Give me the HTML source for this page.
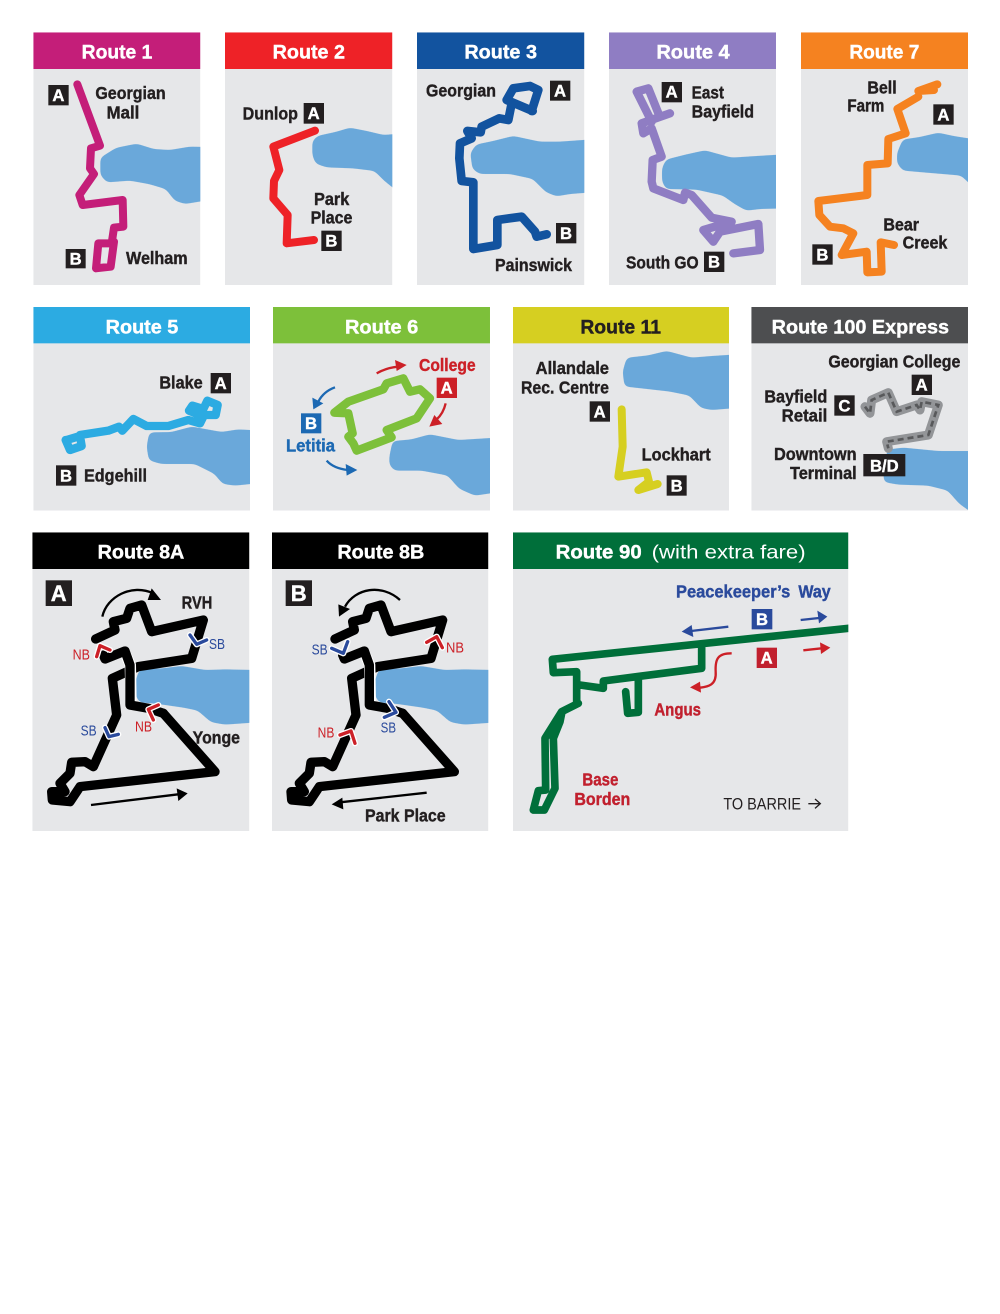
<!DOCTYPE html>
<html><head><meta charset="utf-8"><title>Routes</title>
<style>
html,body{margin:0;padding:0;background:#fff}
svg{display:block}
text{font-family:"Liberation Sans",sans-serif;font-weight:700;color:#231f20;fill:currentColor;stroke:currentColor;stroke-width:1.2px;font-size:52px}
.h{color:#fff;font-size:58px}
.r{font-weight:400;stroke-width:0}
.m{font-size:44px;font-weight:400;stroke-width:0}
.bt{color:#fff;font-size:50px;text-anchor:middle}
.w{fill:#6aa8da;stroke:#6aa8da;stroke-width:8;stroke-linejoin:round;filter:url(#g)}
.l{fill:none;stroke-linejoin:round;stroke-linecap:round}
.a{fill:none;stroke-width:7}
</style></head><body>
<svg xmlns="http://www.w3.org/2000/svg" width="1000" height="1314" viewBox="0 0 1000 1314">
<defs><filter id="g" x="-10%" y="-10%" width="120%" height="120%" color-interpolation-filters="sRGB"><feGaussianBlur stdDeviation="8"/><feComponentTransfer><feFuncA type="linear" slope="12" intercept="-5.5"/></feComponentTransfer></filter></defs>
<rect width="1000" height="1314" fill="#fff"/>

<g transform="translate(20 25) scale(.33333)">
<svg x="40" y="22" width="501" height="758" viewBox="40 22 501 758">
<rect x="40" y="22" width="501" height="758" fill="#e6e7e9"/><rect x="40" y="22" width="501" height="110" fill="#c41e79"/>
<text class="h" x="185" y="100" textLength="212" lengthAdjust="spacingAndGlyphs">Route 1</text>
<polygon class="w" points="245,400 290,372 350,360 400,376 450,379 510,369 560,370 560,522 495,533 467,524 440,489 390,474 330,463 262,468 245,449"/>
<path class="l" stroke="#c41e79" stroke-width="24" d="M172,178 L240,362 L213,370 L210,430 L222,447 L178,510 L188,540 L308,525 L310,605 L282,608 L275,655 L235,655 L228,730 L272,725 L282,650"/>
<rect x="85" y="180" width="61" height="61" fill="#231f20"/><text class="bt" x="115" y="228">A</text>
<rect x="137" y="672" width="60" height="58" fill="#231f20"/><text class="bt" x="167" y="718">B</text>
<text x="226" y="222" textLength="211" lengthAdjust="spacingAndGlyphs">Georgian</text>
<text x="260" y="280" textLength="98" lengthAdjust="spacingAndGlyphs">Mall</text>
<text x="318" y="717" textLength="185" lengthAdjust="spacingAndGlyphs">Welham</text>
</svg>
<svg x="615" y="22" width="502" height="758" viewBox="615 22 502 758">
<rect x="615" y="22" width="502" height="758" fill="#e6e7e9"/><rect x="615" y="22" width="502" height="110" fill="#ee2227"/>
<text class="h" x="758" y="100" textLength="217" lengthAdjust="spacingAndGlyphs">Route 2</text>
<polygon class="w" points="881,350 895,336 950,324 990,312 1040,322 1090,334 1140,330 1140,500 1095,464 1065,434 1000,426 920,423 890,413 881,390"/>
<path class="l" stroke="#ee2227" stroke-width="24" d="M885,317 L760,365 L778,435 L762,468 L760,520 L803,570 L800,655 L882,645"/>
<rect x="851" y="234" width="61" height="62" fill="#231f20"/><text class="bt" x="881" y="282">A</text>
<rect x="904" y="617" width="61" height="61" fill="#231f20"/><text class="bt" x="934" y="665">B</text>
<text x="668" y="284" textLength="166" lengthAdjust="spacingAndGlyphs">Dunlop</text>
<text x="882" y="540" textLength="106" lengthAdjust="spacingAndGlyphs">Park</text>
<text x="872" y="595" textLength="125" lengthAdjust="spacingAndGlyphs">Place</text>
</svg>
</g>

<g transform="translate(410 25) scale(.33333)">
<svg x="21" y="22" width="502" height="758" viewBox="21 22 502 758">
<rect x="21" y="22" width="502" height="758" fill="#e6e7e9"/><rect x="21" y="22" width="502" height="110" fill="#12539f"/>
<text class="h" x="163" y="100" textLength="218" lengthAdjust="spacingAndGlyphs">Route 3</text>
<polygon class="w" points="185,385 201,362 250,352 310,337 390,354 450,354 545,347 545,498 480,503 440,510 410,498 370,458 300,443 210,443 191,430"/>
<path class="l" stroke="#12539f" stroke-width="26" d="M368,258 L290,225 L310,190 L360,183 L385,195 L365,258 M305,235 L295,285 L268,280 L215,305 L212,322 L172,318 L185,340 L150,355 L148,400 L155,468 L190,472 L190,672 L262,660 L262,585 L335,575 L375,620 L380,635 L410,628"/>
<rect x="420" y="167" width="61" height="60" fill="#231f20"/><text class="bt" x="450" y="214">A</text>
<rect x="438" y="594" width="61" height="61" fill="#231f20"/><text class="bt" x="468" y="642">B</text>
<text x="48" y="215" textLength="210" lengthAdjust="spacingAndGlyphs">Georgian</text>
<text x="255" y="738" textLength="231" lengthAdjust="spacingAndGlyphs">Painswick</text>
</svg>
<svg x="597" y="22" width="501" height="758" viewBox="597 22 501 758">
<rect x="597" y="22" width="501" height="758" fill="#e6e7e9"/><rect x="597" y="22" width="501" height="110" fill="#8f7dc3"/>
<text class="h" x="739" y="100" textLength="220" lengthAdjust="spacingAndGlyphs">Route 4</text>
<polygon class="w" points="760,430 771,407 830,392 885,380 965,402 1040,397 1120,392 1120,546 1050,548 1010,553 975,533 940,508 860,490 770,488 760,468"/>
<path class="l" stroke="#8f7dc3" stroke-width="25" d="M725,290 L680,200 L715,190 L748,272 M780,265 L695,295 L700,325 L725,310 L755,395 L728,405 L725,470 L730,490 L820,525 L825,503 L845,510 L905,578 L965,590 L880,615 L910,650 L930,620 L1045,597 L1050,675 L970,685"/>
<rect x="755" y="171" width="61" height="61" fill="#231f20"/><text class="bt" x="785" y="218">A</text>
<rect x="882" y="680" width="61" height="61" fill="#231f20"/><text class="bt" x="912" y="728">B</text>
<text x="845" y="220" textLength="97" lengthAdjust="spacingAndGlyphs">East</text>
<text x="845" y="278" textLength="187" lengthAdjust="spacingAndGlyphs">Bayfield</text>
<text x="648" y="730" textLength="218" lengthAdjust="spacingAndGlyphs">South GO</text>
</svg>
</g>

<g transform="translate(790 25) scale(.33333)">
<svg x="33" y="22" width="501" height="758" viewBox="33 22 501 758">
<rect x="33" y="22" width="501" height="758" fill="#e6e7e9"/><rect x="33" y="22" width="501" height="110" fill="#f58220"/>
<text class="h" x="178" y="100" textLength="210" lengthAdjust="spacingAndGlyphs">Route 7</text>
<polygon class="w" points="325,385 341,347 390,340 445,327 490,337 555,347 555,486 515,448 480,445 400,438 340,433 325,413"/>
<path class="l" stroke="#f58220" stroke-width="24" d="M442,178 L385,198 L432,195 M385,215 L322,252 L347,325 L295,342 L293,415 L232,420 L232,510 L85,528 L88,570 L120,605 L160,610 L190,625 L155,690 L230,680 L232,742 L275,740 L272,652 L312,660"/>
<rect x="430" y="238" width="61" height="61" fill="#231f20"/><text class="bt" x="460" y="286">A</text>
<rect x="67" y="658" width="61" height="61" fill="#231f20"/><text class="bt" x="97" y="706">B</text>
<text x="232" y="205" textLength="88" lengthAdjust="spacingAndGlyphs">Bell</text>
<text x="172" y="260" textLength="111" lengthAdjust="spacingAndGlyphs">Farm</text>
<text x="280" y="617" textLength="107" lengthAdjust="spacingAndGlyphs">Bear</text>
<text x="338" y="671" textLength="134" lengthAdjust="spacingAndGlyphs">Creek</text>
</svg>
</g>

<g transform="translate(25 300) scale(.33333)">
<svg x="25" y="21" width="650" height="611" viewBox="25 21 650 611">
<rect x="25" y="21" width="650" height="611" fill="#e6e7e9"/><rect x="25" y="21" width="650" height="109" fill="#2cabe2"/>
<text class="h" x="242" y="100" textLength="218" lengthAdjust="spacingAndGlyphs">Route 5</text>
<polygon class="w" points="369,440 376,401 440,400 500,384 590,400 640,392 695,395 695,546 630,553 595,548 570,518 510,488 410,488 375,478"/>
<path class="l" stroke="#2cabe2" stroke-width="25" d="M125,420 L165,408 L170,438 L135,450 L122,420 M165,405 L250,392 L282,380 L292,392 L325,357 L365,378 L430,378 L490,360 L525,370 L535,350 L492,332 L502,317 L535,327 L547,302 L578,315 L572,345 L530,345"/>
<rect x="557" y="219" width="61" height="61" fill="#231f20"/><text class="bt" x="587" y="267">A</text>
<rect x="93" y="496" width="61" height="61" fill="#231f20"/><text class="bt" x="123" y="544">B</text>
<text x="403" y="265" textLength="130" lengthAdjust="spacingAndGlyphs">Blake</text>
<text x="177" y="545" textLength="189" lengthAdjust="spacingAndGlyphs">Edgehill</text>
</svg>
<svg x="744" y="21" width="651" height="611" viewBox="744 21 651 611">
<rect x="744" y="21" width="651" height="611" fill="#e6e7e9"/><rect x="744" y="21" width="651" height="109" fill="#7dc03a"/>
<text class="h" x="960" y="100" textLength="220" lengthAdjust="spacingAndGlyphs">Route 6</text>
<polygon class="w" points="1097,470 1106,427 1160,422 1215,407 1300,424 1415,417 1415,573 1350,583 1305,563 1270,523 1190,508 1110,508 1097,493"/>
<path class="l" stroke="#7dc03a" stroke-width="25" d="M928,338 L970,305 L1075,268 L1085,250 L1135,235 L1155,275 L1185,268 L1215,295 L1175,355 L1085,390 L1100,412 L995,452 L985,430 L970,410 L983,400 L970,340 L928,338"/>
<path class="a" stroke="#cc2027" d="M1055,220 Q1085,203 1118,200"/><polygon fill="#cc2027" points="1145,195 1110,180 1115,213"/>
<path class="a" stroke="#1c69b3" d="M930,262 Q895,275 880,305"/><polygon fill="#1c69b3" points="865,328 862,293 895,310"/>
<path class="a" stroke="#cc2027" d="M1262,310 Q1255,340 1235,358"/><polygon fill="#cc2027" points="1213,380 1228,345 1252,372"/>
<path class="a" stroke="#1c69b3" d="M905,482 Q925,505 968,510"/><polygon fill="#1c69b3" points="997,510 962,492 965,527"/>
<rect x="1235" y="233" width="61" height="61" fill="#cc2027"/><text class="bt" x="1265" y="281">A</text>
<rect x="828" y="340" width="61" height="60" fill="#1c69b3"/><text class="bt" x="858" y="387">B</text>
<text x="1182" y="213" textLength="170" lengthAdjust="spacingAndGlyphs" style="color:#cc2027">College</text>
<text x="783" y="455" textLength="147" lengthAdjust="spacingAndGlyphs" style="color:#1c69b3">Letitia</text>
</svg>
</g>

<g transform="translate(505 300) scale(.33333)">
<svg x="24" y="21" width="648" height="611" viewBox="24 21 648 611">
<rect x="24" y="21" width="648" height="611" fill="#e6e7e9"/><rect x="24" y="21" width="648" height="109" fill="#d6cf21"/>
<text class="h" x="226" y="100" textLength="242" lengthAdjust="spacingAndGlyphs" style="color:#231f20">Route 11</text>
<polygon class="w" points="357,215 368,177 430,170 485,157 560,177 620,172 695,167 695,320 620,326 590,320 555,283 490,270 400,260 362,256"/>
<path class="l" stroke="#d6cf21" stroke-width="24" d="M350,328 L353,440 L340,530 L425,517 L432,545 L400,570 L458,552"/>
<rect x="254" y="304" width="61" height="61" fill="#231f20"/><text class="bt" x="284" y="352">A</text>
<rect x="485" y="526" width="60" height="61" fill="#231f20"/><text class="bt" x="515" y="574">B</text>
<text x="92" y="222" textLength="220" lengthAdjust="spacingAndGlyphs">Allandale</text>
<text x="48" y="280" textLength="264" lengthAdjust="spacingAndGlyphs">Rec. Centre</text>
<text x="410" y="482" textLength="207" lengthAdjust="spacingAndGlyphs">Lockhart</text>
</svg>
<svg x="739" y="21" width="650" height="611" viewBox="739 21 650 611">
<rect x="739" y="21" width="650" height="611" fill="#e6e7e9"/><rect x="739" y="21" width="650" height="109" fill="#4d4e50"/>
<text class="h" x="800" y="100" textLength="532" lengthAdjust="spacingAndGlyphs">Route 100 Express</text>
<polygon class="w" points="1140,500 1151,452 1195,447 1300,457 1410,457 1410,640 1365,608 1330,568 1270,553 1180,550 1140,543"/>
<path class="l" stroke="#939598" stroke-width="27" d="M1080,320 L1095,340 L1100,300 L1150,278 L1175,335 L1235,315 L1245,330 L1250,305 L1300,315 L1270,405 L1145,425 L1150,445"/>
<path fill="none" stroke="#58595b" stroke-width="8" stroke-dasharray="18 12" d="M1080,320 L1095,340 L1100,300 L1150,278 L1175,335 L1235,315 L1245,330 L1250,305 L1300,315 L1270,405 L1145,425 L1150,445"/>
<rect x="1220" y="224" width="61" height="61" fill="#231f20"/><text class="bt" x="1250" y="272">A</text>
<rect x="988" y="286" width="61" height="61" fill="#231f20"/><text class="bt" x="1018" y="334">C</text>
<rect x="1075" y="462" width="126" height="67" fill="#231f20"/><text class="bt" x="1138" y="514">B/D</text>
<text x="970" y="202" textLength="396" lengthAdjust="spacingAndGlyphs">Georgian College</text>
<text x="778" y="307" textLength="189" lengthAdjust="spacingAndGlyphs">Bayfield</text>
<text x="830" y="365" textLength="137" lengthAdjust="spacingAndGlyphs">Retail</text>
<text x="807" y="480" textLength="248" lengthAdjust="spacingAndGlyphs">Downtown</text>
<text x="855" y="537" textLength="200" lengthAdjust="spacingAndGlyphs">Terminal</text>
</svg>
</g>

<g transform="translate(25 525) scale(.33333)">
<svg x="22" y="22" width="651" height="896" viewBox="22 22 651 896">
<rect x="22" y="22" width="651" height="896" fill="#e6e7e9"/><rect x="22" y="22" width="651" height="110" fill="#000"/>
<text class="h" x="218" y="100" textLength="260" lengthAdjust="spacingAndGlyphs">Route 8A</text>
<polygon class="w" points="335,470 346,437 410,434 470,427 540,439 600,437 695,439 695,588 600,595 560,588 520,553 470,543 400,533 345,528 335,508"/>
<path class="l" stroke="#000" stroke-width="28" d="M212,342 L270,315 L265,290 L305,280 L315,250 L350,240 L380,320 L535,285 L500,400 L340,425 L262,460 L275,570 L205,725 L180,710 L140,712 L135,745 L105,775 L120,800 L80,800 L82,825 L135,830 L165,785 L570,740 L415,565"/>
<path class="l" stroke="#fff" stroke-width="34" d="M318,525 L316,420 L305,395"/>
<path class="l" stroke="#000" stroke-width="28" d="M415,565 L370,550 L315,540 L315,420 L300,378 L240,402 L235,390"/>
<path class="l" stroke="#fff" stroke-width="18" d="M215,395 L225,362 L255,375 M495,330 L515,358 L545,345 M240,608 L252,635 L280,628 M400,540 L370,553 L385,585" stroke-linecap="butt"/>
<path class="l" stroke="#cc2027" stroke-width="10" d="M215,395 L225,362 L255,375 M400,540 L370,553 L385,585" stroke-linecap="butt"/>
<path class="l" stroke="#2a4a9c" stroke-width="10" d="M495,330 L515,358 L545,345 M240,608 L252,635 L280,628" stroke-linecap="butt"/>
<path class="a" stroke="#000" d="M232,275 C245,215 320,175 385,205"/><polygon fill="#000" points="408,225 380,190 368,225"/>
<path class="a" stroke="#000" d="M198,840 L460,808"/><polygon fill="#000" points="488,805 455,790 460,828"/>
<rect x="62" y="166" width="79" height="77" fill="#231f20"/><text class="bt" style="font-size:66px" x="101" y="228">A</text>
<text class="m" x="143" y="403" textLength="52" lengthAdjust="spacingAndGlyphs" style="color:#cc2027">NB</text>
<text class="m" x="552" y="372" textLength="48" lengthAdjust="spacingAndGlyphs" style="color:#2a4a9c">SB</text>
<text class="m" x="167" y="632" textLength="48" lengthAdjust="spacingAndGlyphs" style="color:#2a4a9c">SB</text>
<text class="m" x="330" y="620" textLength="51" lengthAdjust="spacingAndGlyphs" style="color:#cc2027">NB</text>
<text x="470" y="250" textLength="92" lengthAdjust="spacingAndGlyphs">RVH</text>
<text x="503" y="655" textLength="142" lengthAdjust="spacingAndGlyphs">Yonge</text>
</svg>
</g>

<g transform="translate(265 525) scale(.33333)">
<svg x="21" y="22" width="649" height="896" viewBox="21 22 649 896">
<rect x="21" y="22" width="649" height="896" fill="#e6e7e9"/><rect x="21" y="22" width="649" height="110" fill="#000"/>
<text class="h" x="217" y="100" textLength="261" lengthAdjust="spacingAndGlyphs">Route 8B</text>
<g transform="translate(-2 0)">
<polygon class="w" points="335,470 346,437 410,434 470,427 540,439 600,437 695,439 695,588 600,595 560,588 520,553 470,543 400,533 345,528 335,508"/>
<path class="l" stroke="#000" stroke-width="28" d="M212,342 L270,315 L265,290 L305,280 L315,250 L350,240 L380,320 L535,285 L500,400 L340,425 L262,460 L275,570 L205,725 L180,710 L140,712 L135,745 L105,775 L120,800 L80,800 L82,825 L135,830 L165,785 L570,740 L415,565"/>
<path class="l" stroke="#fff" stroke-width="34" d="M318,525 L316,420 L305,395"/>
<path class="l" stroke="#000" stroke-width="28" d="M415,565 L370,550 L315,540 L315,420 L300,378 L240,402 L235,390"/>
</g>
<path class="l" stroke="#fff" stroke-width="18" d="M200,370 L235,385 L248,350 M485,352 L515,335 L532,368 M225,630 L258,618 L270,655 M372,530 L393,562 L358,577" stroke-linecap="butt"/>
<path class="l" stroke="#2a4a9c" stroke-width="10" d="M200,370 L235,385 L248,350 M372,530 L393,562 L358,577" stroke-linecap="butt"/>
<path class="l" stroke="#cc2027" stroke-width="10" d="M485,352 L515,335 L532,368 M225,630 L258,618 L270,655" stroke-linecap="butt"/>
<path class="a" stroke="#000" d="M405,225 C350,175 270,190 240,245"/><polygon fill="#000" points="222,275 220,238 255,252"/>
<path class="a" stroke="#000" d="M485,803 L225,832"/><polygon fill="#000" points="200,838 232,818 235,853"/>
<rect x="62" y="166" width="79" height="77" fill="#231f20"/><text class="bt" style="font-size:66px" x="101" y="228">B</text>
<text class="m" x="140" y="388" textLength="48" lengthAdjust="spacingAndGlyphs" style="color:#2a4a9c">SB</text>
<text class="m" x="543" y="382" textLength="54" lengthAdjust="spacingAndGlyphs" style="color:#cc2027">NB</text>
<text class="m" x="158" y="638" textLength="50" lengthAdjust="spacingAndGlyphs" style="color:#cc2027">NB</text>
<text class="m" x="347" y="623" textLength="46" lengthAdjust="spacingAndGlyphs" style="color:#2a4a9c">SB</text>
<text x="300" y="890" textLength="242" lengthAdjust="spacingAndGlyphs">Park Place</text>
</svg>
</g>

<g transform="translate(505 525) scale(.33333)">
<svg x="24" y="22" width="1006" height="896" viewBox="24 22 1006 896">
<rect x="24" y="22" width="1006" height="896" fill="#e6e7e9"/><rect x="24" y="22" width="1006" height="110" fill="#006f3a"/>
<text class="h" x="152" y="100" textLength="258" lengthAdjust="spacingAndGlyphs">Route 90</text>
<text class="h r" x="440" y="100" textLength="462" lengthAdjust="spacingAndGlyphs">(with extra fare)</text>
<path class="l" stroke="#006f3a" stroke-width="23" d="M1040,309 L142,403 L145,443 L215,440 L215,530 M590,360 L590,430 L295,468 L295,490 L225,480 M400,460 L400,562 L368,565 L362,500 M220,535 L170,560 L120,640 L122,795 L100,797 L85,855 L118,855 L150,790 L145,640 L165,590 L170,565"/>
<path class="a" stroke="#2a4a9c" d="M670,305 L558,318"/><polygon fill="#2a4a9c" points="530,320 560,300 565,336"/>
<path class="a" stroke="#2a4a9c" d="M887,285 L942,279"/><polygon fill="#2a4a9c" points="967,275 937,257 942,295"/>
<path class="a" stroke="#cc2027" d="M895,376 L950,370"/><polygon fill="#cc2027" points="976,368 945,352 948,387"/>
<path class="a" stroke="#cc2027" d="M680,385 C640,385 630,400 632,440 C635,480 610,485 585,488"/><polygon fill="#cc2027" points="555,487 585,470 588,503"/>
<rect x="740" y="252" width="62" height="61" fill="#2a4a9c"/><text class="bt" x="771" y="300">B</text>
<rect x="755" y="368" width="61" height="61" fill="#c1202e"/><text class="bt" x="785" y="416">A</text>
<text x="513" y="218" textLength="343" lengthAdjust="spacingAndGlyphs" style="color:#2a4a9c">Peacekeeper’s</text>
<text x="880" y="218" textLength="97" lengthAdjust="spacingAndGlyphs" style="color:#2a4a9c">Way</text>
<text x="448" y="572" textLength="140" lengthAdjust="spacingAndGlyphs" style="color:#c1202e">Angus</text>
<text x="232" y="782" textLength="108" lengthAdjust="spacingAndGlyphs" style="color:#c1202e">Base</text>
<text x="208" y="840" textLength="168" lengthAdjust="spacingAndGlyphs" style="color:#c1202e">Borden</text>
<text class="r" x="655" y="853" style="font-size:50px" textLength="233" lengthAdjust="spacingAndGlyphs">TO BARRIE</text>
<path fill="none" stroke="#231f20" stroke-width="4" d="M910,836 H945 M930,822 L946,836 L930,850"/>
</svg>
</g>
</svg>
</body></html>
